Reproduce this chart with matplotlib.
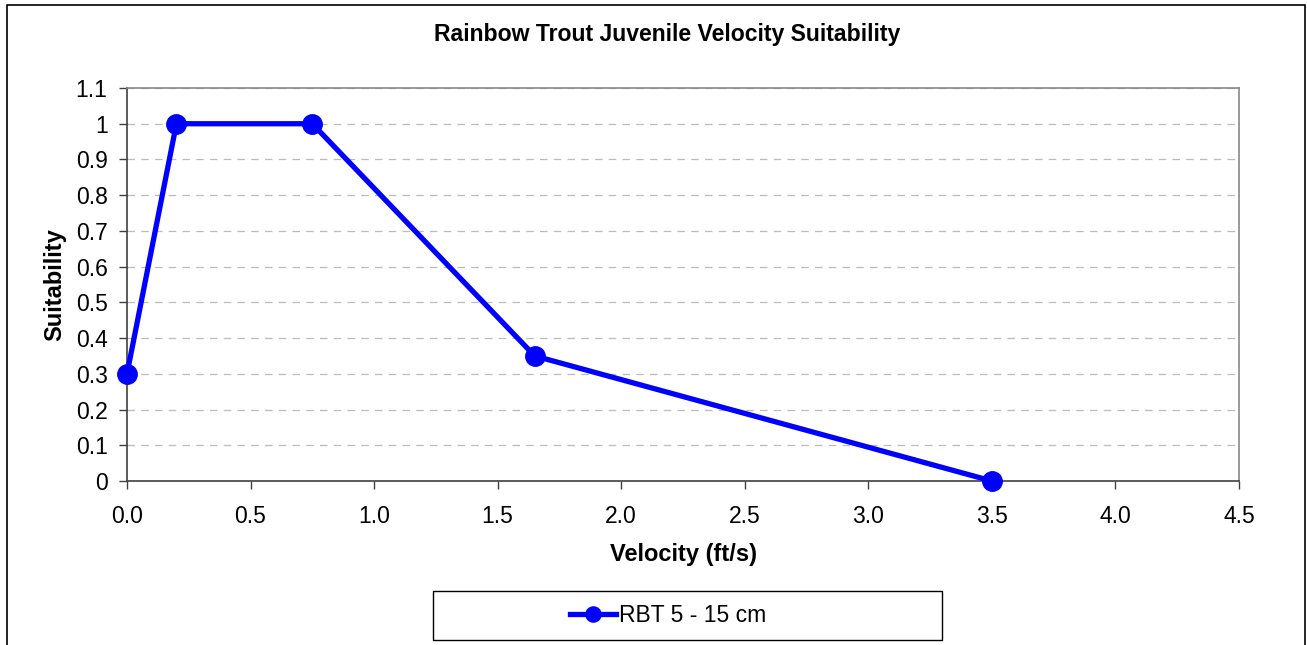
import matplotlib
matplotlib.use("Agg")
import matplotlib.pyplot as plt
from matplotlib.patches import Rectangle

# Daten
velocity = [0.0, 0.2, 0.75, 1.65, 3.5]
suitability = [0.3, 1.0, 1.0, 0.35, 0.0]
series_label = "RBT 5 - 15 cm"
x_ticks = [0.0, 0.5, 1.0, 1.5, 2.0, 2.5, 3.0, 3.5, 4.0, 4.5]
y_ticks = [0, 0.1, 0.2, 0.3, 0.4, 0.5, 0.6, 0.7, 0.8, 0.9, 1, 1.1]
y_tick_labels = ["0", "0.1", "0.2", "0.3", "0.4", "0.5", "0.6", "0.7", "0.8", "0.9", "1", "1.1"]

plt.rcParams["font.family"] = ["Liberation Sans", "DejaVu Sans"]

W, H = 1307, 645
fig = plt.figure(figsize=(W / 100, H / 100), dpi=100, facecolor="white")
ax = fig.add_axes([127 / W, 1 - 481 / H, (1239 - 127) / W, (481 - 88) / H])

line, = ax.plot(velocity, suitability, color="#0000FF", linewidth=3.8,
                marker="o", markersize=14, clip_on=False, zorder=5)

ax.set_xlim(0, 4.5)
ax.set_ylim(0, 1.1)
ax.set_xticks(x_ticks)
ax.set_xticklabels([f"{v:.1f}" for v in x_ticks])
ax.set_yticks(y_ticks)
ax.set_yticklabels(y_tick_labels)
ax.tick_params(axis="both", labelsize=16.5, direction="out", length=6,
               width=1, color="#404040")
ax.tick_params(axis="y", pad=8)
ax.tick_params(axis="x", pad=11)

ax.grid(True, axis="y", linestyle=(0, (6, 5)), color="#bbbbbb", linewidth=0.9)
ax.set_axisbelow(True)

for side in ("left", "bottom"):
    ax.spines[side].set_color("#404040")
    ax.spines[side].set_linewidth(1.2)
for side in ("top", "right"):
    ax.spines[side].set_color("#888888")
    ax.spines[side].set_linewidth(1.2)

ax.set_xlabel("Velocity (ft/s)", fontsize=17, fontweight="bold", labelpad=11)
ax.set_ylabel("Suitability", fontsize=17, fontweight="bold", labelpad=7)
fig.text(667 / W, 1 - 34 / H, "Rainbow Trout Juvenile Velocity Suitability",
         ha="center", va="center", fontsize=16.6, fontweight="bold")

# Außenrahmen
fig.patches.append(Rectangle((7 / W, -0.05), (1305 - 7) / W, 1.05 - 5 / H,
                             transform=fig.transFigure, fill=False,
                             edgecolor="black", linewidth=1.2, clip_on=False))
# Legendenrahmen
fig.patches.append(Rectangle((433 / W, 1 - 640 / H), (942 - 433) / W, (640 - 591) / H,
                             transform=fig.transFigure, fill=False,
                             edgecolor="black", linewidth=1.0))

fig.legend([line], [series_label], loc="center", bbox_to_anchor=(668 / W, 1 - 616 / H),
           frameon=False, fontsize=16.5, handlelength=2.0, handletextpad=0.15,
           borderpad=0, markerscale=0.78)

fig.savefig("out.png", dpi=100, facecolor="white")
